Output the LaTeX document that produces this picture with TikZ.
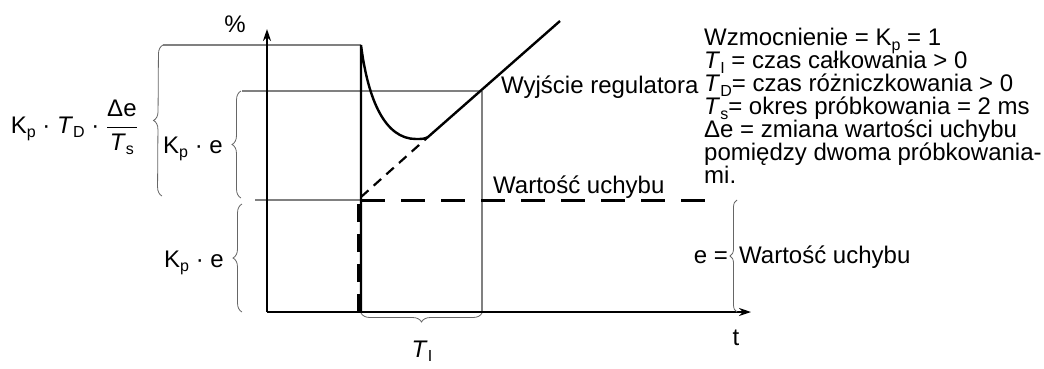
\documentclass[tikz,border=0pt]{standalone}
\usepackage{fontspec}
\setmainfont{Liberation Sans}
\usetikzlibrary{arrows.meta, positioning, decorations.pathreplacing, calc}
\newcommand{\subtxt}[1]{\raisebox{-0.2em}[0pt][0pt]{\fontsize{16}{16}\selectfont #1}}
\tikzset{
    font=\fontsize{24}{23}\selectfont,
    >={Stealth[length=12pt, width=8pt]},
    % Lines
    axis/.style={->, line width=2.2pt, black},
    signal/.style={line width=2.4pt, black},
    ramp/.style={line width=2.2pt, black, dash pattern=on 10pt off 7pt},
    errline/.style={line width=3pt, black, dash pattern=on 24pt off 16pt},
    errstep/.style={line width=4.5pt, black, dash pattern=on 18pt off 12pt},
    guide/.style={line width=1.3pt, gray},
    brace/.style={decorate, decoration={brace, amplitude=9pt}, line width=0.8pt, gray!80!black},
    % Labels
    lbl/.style={inner sep=0pt, align=left}
}

\begin{document}
\begin{tikzpicture}[x=1pt, y=-1pt]
\useasboundingbox (0,0) rectangle (1044,368);

% axes
\coordinate (O) at (267,312);
\coordinate (ytop) at (267,29);
\coordinate (xend) at (751,312);

% response points
\coordinate (base) at (361,312);
\coordinate (peak) at (361,45);
\coordinate (estep) at (361,200);
\coordinate (eend) at (705,200);
\coordinate (ebase) at (359,312);
\coordinate (etop) at (359,200);
\coordinate (rampA) at (361,197);
\coordinate (minpt) at (416,139);
\coordinate (knee) at (428,137);
\coordinate (rampB) at (560,21);
\coordinate (ti) at (482,312);
\coordinate (tiTop) at (482,91);

% guide ends
\coordinate (gD) at (163,45);
\coordinate (gK) at (242,91);
\coordinate (gE) at (255,200);

\draw[guide] (gD) -- (peak);
\draw[guide] (gK) -- (tiTop);
\draw[guide] (gE) -- (estep);
\draw[guide] (tiTop) -- (ti);

\draw[axis] (O) -- (ytop);
\draw[axis] (O) -- (xend);

\draw[errline] (estep) -- (eend);
\draw[errstep] (ebase) -- (etop);
\draw[ramp] (rampA) -- (knee);
\draw[signal] (base) -- (peak) .. controls (368,100) and (385,139) .. (minpt)
    .. controls (421,139) and (425,139) .. (knee) -- (rampB);

% braces
\draw[brace] (162,196) -- (gD);
\draw[brace] (241,198) -- (241,91);
\draw[brace] (242,312) -- (242,204);
\draw[brace] (ti) ++(0,1) -- (361,313);
\draw[brace, decoration={amplitude=7pt}] (737,312) -- (737,200);

% labels
\node[lbl, anchor=base] (pct) at (235,32) {\%};
\node[lbl, anchor=base] (tlbl) at (736,345) {t};
\node[lbl, anchor=base] (tilbl) at (422,357) {\textit{T}\subtxt{I}};

\node[lbl, anchor=base east] (kd) at (138,133)
    {K\subtxt{p} · \textit{T}\subtxt{D} · $\displaystyle\frac{\mbox{Δe}}{\mbox{\textit{T}\subtxt{s}}}$};
\node[lbl, anchor=base east] (kp1) at (223,153) {K\subtxt{p} · e};
\node[lbl, anchor=base east] (kp2) at (224,267) {K\subtxt{p} · e};

\node[lbl, anchor=base west] (out) at (501,93) {Wyjście regulatora};
\node[lbl, anchor=base west] (err) at (493,193) {Wartość uchybu};

\node[lbl, anchor=base east] (eeq) at (728,263) {e =};
\node[lbl, anchor=base west] (edef) at (739,263) {Wartość uchybu};

\node[lbl, anchor=north west] (legend) at (704,28) {Wzmocnienie = K\subtxt{p} = 1\\
\textit{T}\subtxt{I} = czas całkowania > 0\\
\textit{T}\subtxt{D}= czas różniczkowania > 0\\
\textit{T}\subtxt{s}= okres próbkowania = 2 ms\\
Δe = zmiana wartości uchybu\\
pomiędzy dwoma próbkowania-\\
mi.};

\end{tikzpicture}
\end{document}
